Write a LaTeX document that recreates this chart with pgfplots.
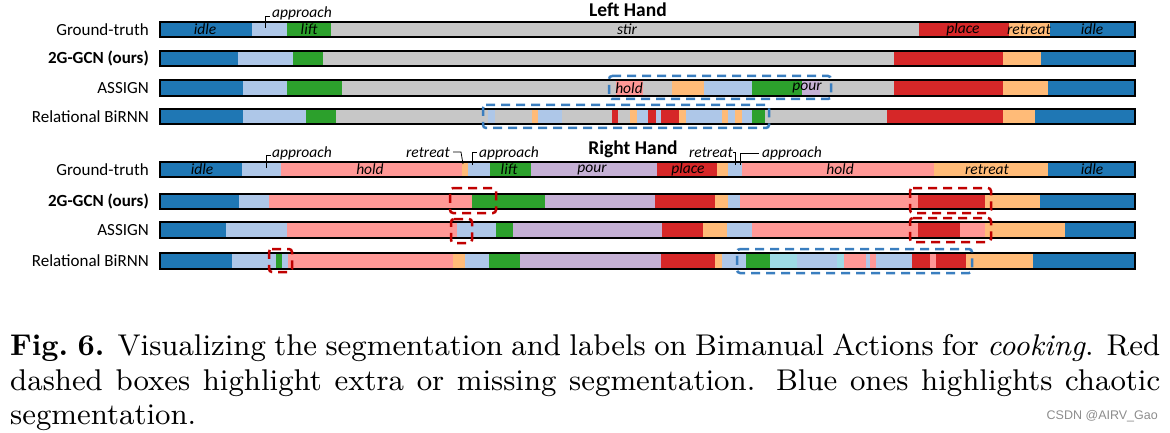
\documentclass[border=0pt]{standalone}
\usepackage{fontspec}
\usepackage{pgfplots}
\pgfplotsset{compat=1.18}
\newfontfamily\carlito{Carlito}
\newfontfamily\wmfont{Liberation Sans}
\newfontfamily\capfont{lmroman9-regular.otf}[BoldFont=lmroman10-bold.otf,ItalicFont=lmroman9-italic.otf]
\definecolor{cidle}{HTML}{1F77B4}
\definecolor{cappr}{HTML}{AEC7E8}
\definecolor{clift}{HTML}{2CA02C}
\definecolor{cstir}{HTML}{C7C7C7}
\definecolor{cplace}{HTML}{D62728}
\definecolor{cretr}{HTML}{FFBB78}
\definecolor{chold}{HTML}{FF9896}
\definecolor{cpour}{HTML}{C5B0D5}
\definecolor{ccyan}{HTML}{9EDAE5}
\definecolor{bbox}{HTML}{3A7EBF}
\definecolor{rbox}{HTML}{C00000}
\newcommand{\seg}[5]{\addplot[fill=#1,draw=none,forget plot] coordinates {(#2,#4) (#3,#4) (#3,#5) (#2,#5)} --cycle;}
\newcommand{\frm}[2]{\addplot[draw=black,line width=1.3pt,fill=none,forget plot] coordinates {(160,#1) (1135,#1) (1135,#2) (160,#2)} --cycle;}
\newcommand{\dbox}[5]{\addplot[draw=#1,line width=2.5pt,dash pattern=on 9pt off 6pt,rounded corners=3pt,fill=none,forget plot] coordinates {(#2,#3) (#4,#3) (#4,#5) (#2,#5)} --cycle;}
\newcommand{\LA}[3]{\seg{#1}{#2}{#3}{22}{37}}
\newcommand{\LB}[3]{\seg{#1}{#2}{#3}{51}{66}}
\newcommand{\LC}[3]{\seg{#1}{#2}{#3}{80}{96}}
\newcommand{\LD}[3]{\seg{#1}{#2}{#3}{109}{124}}
\newcommand{\RA}[3]{\seg{#1}{#2}{#3}{162}{177}}
\newcommand{\RB}[3]{\seg{#1}{#2}{#3}{194}{209}}
\newcommand{\RC}[3]{\seg{#1}{#2}{#3}{222}{238}}
\newcommand{\RD}[3]{\seg{#1}{#2}{#3}{253}{269}}
\begin{document}
\begin{tikzpicture}
\useasboundingbox (0,0) rectangle (1170pt,433pt);
\begin{axis}[at={(0,0)},anchor=south west,scale only axis,width=1170pt,height=433pt,
  xmin=0,xmax=1170,ymin=0,ymax=433,y dir=reverse,hide axis,clip=false]
% ---------- Left hand: ground truth
\LA{cidle}{160}{252}\LA{cappr}{252}{287}\LA{clift}{287}{331}\LA{cstir}{331}{919}
\LA{cplace}{919}{1009}\LA{cretr}{1009}{1050}\LA{cidle}{1050}{1135}
% 2G-GCN
\LB{cidle}{160}{238}\LB{cappr}{238}{293}\LB{clift}{293}{323}\LB{cstir}{323}{894}
\LB{cplace}{894}{1003}\LB{cretr}{1003}{1041}\LB{cidle}{1041}{1135}
% ASSIGN
\LC{cidle}{160}{243}\LC{cappr}{243}{287}\LC{clift}{287}{342}\LC{cstir}{342}{616}
\LC{chold}{616}{643}\LC{cstir}{643}{672}\LC{cretr}{672}{704}\LC{cappr}{704}{752}
\LC{clift}{752}{802}\LC{cpour}{802}{820}\LC{cstir}{820}{894}\LC{cplace}{894}{1003}
\LC{cretr}{1003}{1048}\LC{cidle}{1048}{1135}
% Relational BiRNN
\LD{cidle}{160}{243}\LD{cappr}{243}{306}\LD{clift}{306}{336}\LD{cstir}{336}{488}
\LD{cappr}{488}{495}\LD{cstir}{495}{532}\LD{cretr}{532}{538}\LD{cappr}{538}{562}
\LD{cstir}{562}{612}\LD{cplace}{612}{618}\LD{cstir}{618}{630}\LD{cretr}{630}{637}
\LD{cappr}{637}{648}\LD{cplace}{648}{656}\LD{cappr}{656}{661}\LD{cplace}{661}{679}
\LD{cretr}{679}{686}\LD{cappr}{686}{722}\LD{cretr}{722}{728}\LD{cappr}{728}{735}
\LD{cretr}{735}{742}\LD{cappr}{742}{752}\LD{clift}{752}{765}\LD{cstir}{765}{887}
\LD{cplace}{887}{1003}\LD{cretr}{1003}{1035}\LD{cidle}{1035}{1135}
% ---------- Right hand: ground truth
\RA{cidle}{160}{242}\RA{cappr}{242}{281}\RA{chold}{281}{462}\RA{cretr}{462}{468}
\RA{cappr}{468}{490}\RA{clift}{490}{531}\RA{cpour}{531}{657}\RA{cplace}{657}{717}
\RA{cretr}{717}{728}\RA{cappr}{728}{742}\RA{chold}{742}{934}\RA{cretr}{934}{1048}
\RA{cidle}{1048}{1135}
% 2G-GCN
\RB{cidle}{160}{239}\RB{cappr}{239}{269}\RB{chold}{269}{472}\RB{clift}{472}{545}
\RB{cpour}{545}{655}\RB{cplace}{655}{715}\RB{cretr}{715}{728}\RB{cappr}{728}{740}
\RB{chold}{740}{918}\RB{cplace}{918}{985}\RB{cretr}{985}{1040}\RB{cidle}{1040}{1135}
% ASSIGN
\RC{cidle}{160}{226}\RC{cappr}{226}{287}\RC{chold}{287}{457}\RC{cappr}{457}{496}
\RC{clift}{496}{513}\RC{cpour}{513}{662}\RC{cplace}{662}{703}\RC{cretr}{703}{727}
\RC{cappr}{727}{752}\RC{chold}{752}{918}\RC{cplace}{918}{960}\RC{chold}{960}{985}
\RC{cretr}{985}{1065}\RC{cidle}{1065}{1135}
% Relational BiRNN
\RD{cidle}{160}{232}\RD{cappr}{232}{276}\RD{clift}{276}{282}\RD{cappr}{282}{288}
\RD{chold}{288}{453}\RD{cretr}{453}{465}\RD{cappr}{465}{489}\RD{clift}{489}{520}
\RD{cpour}{520}{661}\RD{cplace}{661}{715}\RD{cretr}{715}{722}\RD{cappr}{722}{746}
\RD{clift}{746}{770}\RD{ccyan}{770}{797}\RD{cappr}{797}{837}\RD{ccyan}{837}{844}
\RD{chold}{844}{866}\RD{cappr}{866}{870}\RD{chold}{870}{876}\RD{cappr}{876}{912}
\RD{cplace}{912}{930}\RD{chold}{930}{936}\RD{cplace}{936}{966}\RD{cretr}{966}{1033}
\RD{cidle}{1033}{1135}
% frames
\frm{22}{37}\frm{51}{66}\frm{80}{96}\frm{109}{124}
\frm{162}{177}\frm{194}{209}\frm{222}{238}\frm{253}{269}
% dashed boxes
\dbox{bbox}{609}{76}{831}{99}
\dbox{bbox}{483}{105}{769}{128}
\dbox{rbox}{450}{188}{496}{213}
\dbox{rbox}{910}{188}{991}{213}
\dbox{rbox}{451}{219}{472}{243}
\dbox{rbox}{910}{218}{991}{242}
\dbox{rbox}{269}{249}{292}{272}
\dbox{bbox}{737}{249}{972}{273}
% row labels
\begin{scope}[every node/.style={font=\carlito\fontsize{17}{19}\selectfont,inner sep=0pt}]
\node[anchor=east] at (axis cs:149,29.5) {Ground-truth};
\node[anchor=east] at (axis cs:149,58.5) {\bfseries 2G-GCN (ours)};
\node[anchor=east] at (axis cs:149,88) {ASSIGN};
\node[anchor=east] at (axis cs:149,116.5) {Relational BiRNN};
\node[anchor=east] at (axis cs:149,169.5) {Ground-truth};
\node[anchor=east] at (axis cs:149,201.5) {\bfseries 2G-GCN (ours)};
\node[anchor=east] at (axis cs:149,230) {ASSIGN};
\node[anchor=east] at (axis cs:149,261) {Relational BiRNN};
\end{scope}
\begin{scope}[every node/.style={font=\carlito\itshape\fontsize{15.5}{18}\selectfont,inner sep=0pt}]
% segment labels left
\node at (axis cs:205,29.5) {idle};
\node at (axis cs:309,29.5) {lift};
\node at (axis cs:627,29.5) {stir};
\node at (axis cs:963,29.5) {place};
\node at (axis cs:1029,29.5) {retreat};
\node at (axis cs:1092,29.5) {idle};
\node at (axis cs:302,13) {approach};
\node at (axis cs:629,88) {hold};
\node at (axis cs:807,88) {pour};
% right
\node at (axis cs:202,169.5) {idle};
\node at (axis cs:370,169.5) {hold};
\node at (axis cs:509,169.5) {lift};
\node at (axis cs:592,169.5) {pour};
\node at (axis cs:688,169.5) {place};
\node at (axis cs:840,169.5) {hold};
\node at (axis cs:987,169.5) {retreat};
\node at (axis cs:1092,169.5) {idle};
\node at (axis cs:302,153) {approach};
\node at (axis cs:428,153) {retreat};
\node at (axis cs:509,153) {approach};
\node at (axis cs:711,153) {retreat};
\node at (axis cs:792,153) {approach};
\end{scope}
\node[font=\carlito\bfseries\fontsize{19.5}{22}\selectfont,inner sep=0pt] at (axis cs:628,10) {Left Hand};
\node[font=\carlito\bfseries\fontsize{19.5}{22}\selectfont,inner sep=0pt] at (axis cs:633,149) {Right Hand};
% leaders
\draw[line width=0.8pt] (axis cs:265,28) -- (axis cs:265,16) -- (axis cs:270,16);
\draw[line width=0.8pt] (axis cs:266,168) -- (axis cs:266,155) -- (axis cs:271,155);
\draw[line width=0.8pt] (axis cs:453,152) -- (axis cs:461,152) -- (axis cs:463,164);
\draw[line width=0.8pt] (axis cs:472,165) -- (axis cs:472,152) -- (axis cs:477,152);
\draw[line width=0.8pt] (axis cs:733,152) -- (axis cs:735,152) -- (axis cs:735,165);
\draw[line width=0.8pt] (axis cs:740,165) -- (axis cs:740,153) -- (axis cs:759,153);
% caption
\node[anchor=north west,inner sep=0pt,text width=1150pt,align=justify,
  font=\capfont\fontsize{30}{34.5}\selectfont] at (axis cs:10,334)
  {\textbf{Fig.~6.} Visualizing the segmentation and labels on Bimanual Actions for \emph{cooking}. Red\linebreak
   dashed boxes highlight extra or missing segmentation. Blue ones highlights chaotic\linebreak
   segmentation.};
\node[anchor=east,inner sep=0pt,font=\wmfont\fontsize{12.5}{14}\selectfont,text=black!45] at (axis cs:1158,416) {CSDN @AIRV\_Gao};
\end{axis}
\end{tikzpicture}
\end{document}
